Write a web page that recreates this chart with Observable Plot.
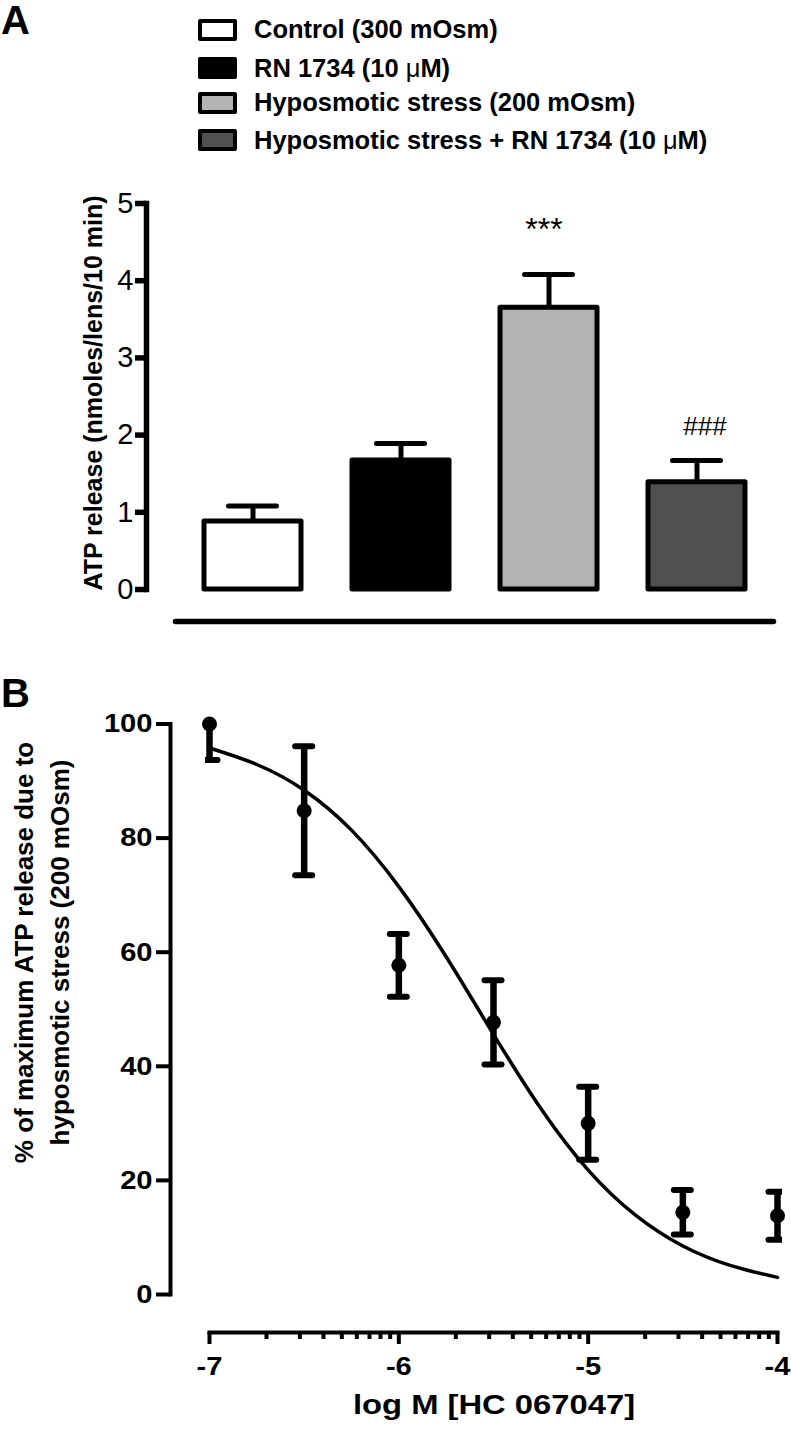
<!DOCTYPE html>
<html>
<head>
<meta charset="utf-8">
<script src="https://cdn.jsdelivr.net/npm/d3@7"></script>
<script src="https://cdn.jsdelivr.net/npm/@observablehq/plot@0.6"></script>
<style>
  html, body { margin: 0; padding: 0; background: #fff; }
  #page { position: relative; width: 791px; height: 1429px; overflow: hidden;
          font-family: "Liberation Sans", Arial, Helvetica, sans-serif; color: #000; background: #fff; }
  .panel-letter { position: absolute; left: 1px; font-size: 40px; line-height: 32px; font-weight: bold; }
  .legend-row { position: absolute; left: 198px; height: 25px; display: flex; align-items: center;
                font-size: 25.5px; line-height: 25px; font-weight: bold; white-space: nowrap; }
  .swatch { width: 39px; height: 22px; border: 4px solid #000; box-sizing: border-box;
            border-radius: 2px; margin-right: 17px; flex: none; }
  .mu { font-weight: normal; }
</style>
</head>
<body>
<div id="page"></div>
<script>
// ---------- Panel A data ----------
const categories = [
  "Control (300 mOsm)",
  "RN 1734 (10 μM)",
  "Hyposmotic stress (200 mOsm)",
  "Hyposmotic stress + RN 1734 (10 μM)"
];
const atpMean = [0.88, 1.67, 3.65, 1.39];
const atpSem = [0.20, 0.22, 0.43, 0.28];
const atpSignif = ["", "", "***", "###"];
const atpTicks = [0, 1, 2, 3, 4, 5];
const atpLabel = "ATP release (nmoles/lens/10 min)";

// ---------- Panel B data ----------
const doseLogM = [-7, -6.5, -6, -5.5, -5, -4.5, -4];
const pctMean = [100, 84.8, 57.7, 47.7, 30.0, 14.4, 13.8];
const pctSem = [6.3, 11.3, 5.5, 7.4, 6.4, 3.9, 4.2];
const fitLogM = [-7, -6.75, -6.5, -6.25, -6, -5.75, -5.5, -5.25, -5, -4.75, -4.5, -4.25, -4];
const fitPct = [95.8, 92.9, 88.4, 81.4, 71.5, 59.2, 45.6, 32.6, 21.8, 13.9, 8.5, 5.1, 3.0];
const pctTicks = [0, 20, 40, 60, 80, 100];
const decadeTicks = [-7, -6, -5, -4];
const pctLabel = ["% of maximum ATP release due to", "hyposmotic stress (200 mOsm)"];
const doseLabel = "log M [HC 067047]";

// ---------- styles ----------
const barColors = ["#ffffff", "#000000", "#b3b3b3", "#505050"];
const FONT = '"Liberation Sans", Arial, Helvetica, sans-serif';

const page = document.getElementById("page");

// Panel letters
function letter(txt, top) {
  const d = document.createElement("div");
  d.className = "panel-letter";
  d.style.top = top + "px";
  d.textContent = txt;
  page.appendChild(d);
}

// Legend (HTML)
const legendTops = [17, 55.5, 90, 127.5];
categories.forEach((c, i) => {
  const row = document.createElement("div");
  row.className = "legend-row";
  row.style.top = legendTops[i] + "px";
  const sw = document.createElement("div");
  sw.className = "swatch";
  sw.style.background = barColors[i];
  row.appendChild(sw);
  const lab = document.createElement("span");
  c.split("μ").forEach((part, j) => {
    if (j > 0) {
      const mu = document.createElement("span");
      mu.className = "mu";
      mu.textContent = "μ";
      lab.appendChild(mu);
    }
    lab.appendChild(document.createTextNode(part));
  });
  row.appendChild(lab);
  page.appendChild(row);
});

function place(svg, top) {
  svg.style.position = "absolute";
  svg.style.left = "0px";
  svg.style.top = top + "px";
  page.appendChild(svg);
}

function stretch(texts, k) {
  texts.forEach(t => {
    if (t.querySelector("tspan")) return;
    const w = t.getComputedTextLength();
    if (w > 0) {
      t.setAttribute("textLength", (w * k).toFixed(2));
      t.setAttribute("lengthAdjust", "spacingAndGlyphs");
    }
  });
}

// ---------- Panel A ----------
const dataA = categories.map((c, i) => ({cat: c, mean: atpMean[i], sem: atpSem[i], sig: atpSignif[i]}));

const plotA = Plot.plot({
  width: 791,
  height: 470,
  marginTop: 33,
  marginBottom: 19,
  marginLeft: 146,
  marginRight: 18,
  style: {fontFamily: FONT, background: "white", color: "black"},
  x: {type: "band", domain: categories, range: [175, 773], paddingInner: 0.346, paddingOuter: 0.189, axis: null},
  y: {domain: [0, 5], range: [419, 33]},
  color: {domain: categories, range: barColors},
  marks: [
    Plot.ruleX(dataA, {x: "cat", y1: "mean", y2: d => d.mean + d.sem, stroke: "black", strokeWidth: 5}),
    Plot.tickY(dataA, {x: "cat", y: d => d.mean + d.sem, stroke: "black", strokeWidth: 5,
                        strokeLinecap: "round", insetLeft: 24.5, insetRight: 24.5}),
    Plot.barY(dataA, {x: "cat", y: "mean", fill: "cat", stroke: "black", strokeWidth: 5, strokeLinejoin: "round"}),
    Plot.text(dataA.filter(d => d.sig === "***"), {x: "cat", y: d => d.mean + d.sem, text: "sig",
                        dx: -5, dy: -45, fontSize: 32, fill: "black"}),
    Plot.text(dataA.filter(d => d.sig === "###"), {x: "cat", y: d => d.mean + d.sem, text: "sig",
                        dx: 8, dy: -34, fontSize: 26, fill: "black"}),
    Plot.axisY(atpTicks, {anchor: "left", tickSize: 11, tickPadding: 2, strokeWidth: 5.5,
                        fontSize: 29, label: null, tickFormat: d => String(d)}),
    Plot.frame({anchor: "left", insetBottom: 32, strokeWidth: 5.5, strokeLinecap: "square"}),
    Plot.frame({anchor: "bottom", insetLeft: 29, strokeWidth: 5.5, strokeLinecap: "round"}),
    Plot.text([atpLabel], {frameAnchor: "left", textAnchor: "middle", lineAnchor: "middle", rotate: -90,
                        dx: -53, dy: -19.5, fontSize: 25, fontWeight: "bold", fill: "black"})
  ]
});

// ---------- Panel B ----------
const dataB = doseLogM.map((l, i) => ({dose: Math.pow(10, l), mean: pctMean[i], sem: pctSem[i]}));
const fitB = fitLogM.map((l, i) => ({dose: Math.pow(10, l), pct: fitPct[i]}));
const decadeValues = decadeTicks.map(k => Math.pow(10, k));
const minorTicks = d3.scaleLog().domain([decadeValues[0], decadeValues[decadeValues.length - 1]]).ticks()
  .filter(v => !decadeTicks.some(k => Math.abs(Math.log10(v) - k) < 1e-9));

const plotB = Plot.plot({
  width: 791,
  height: 789,
  marginTop: 83.5,
  marginBottom: 97,
  marginLeft: 205,
  marginRight: 9,
  style: {fontFamily: FONT, background: "white", color: "black"},
  x: {type: "log", domain: [decadeValues[0], decadeValues[decadeValues.length - 1]], range: [209, 777]},
  y: {domain: [0, 100], range: [654, 83.5]},
  marks: [
    Plot.frame({anchor: "left", insetLeft: -35, insetBottom: 38, strokeWidth: 4, strokeLinecap: "square"}),
    Plot.frame({anchor: "bottom", insetLeft: 4, insetRight: 5, strokeWidth: 4, strokeLinecap: "square"}),
    Plot.axisY(pctTicks, {anchor: "left", dx: -35, tickSize: 14, tickPadding: 4, strokeWidth: 4,
                          fontSize: 26, fontWeight: "bold", label: null, tickFormat: d => String(d)}),
    Plot.axisX(minorTicks, {anchor: "bottom", tickSize: 7, strokeWidth: 4, tickFormat: () => "", label: null}),
    Plot.axisX(decadeValues, {anchor: "bottom", tickSize: 12, tickPadding: 12, strokeWidth: 4,
                          fontSize: 26, fontWeight: "bold", label: null,
                          tickFormat: d => String(Math.round(Math.log10(d)))}),
    Plot.line(fitB, {x: "dose", y: "pct", curve: "natural", stroke: "black", strokeWidth: 3.5}),
    Plot.ruleX(dataB, {x: "dose", y1: d => d.mean - d.sem, y2: d => d.mean + d.sem,
                       stroke: "black", strokeWidth: 6.5, clip: true}),
    Plot.ruleY(dataB, {y: d => d.mean - d.sem, x1: "dose", x2: "dose", insetLeft: -8.5, insetRight: -8.5,
                       stroke: "black", strokeWidth: 6, strokeLinecap: "round", clip: true}),
    Plot.ruleY(dataB, {y: d => d.mean + d.sem, x1: "dose", x2: "dose", insetLeft: -8.5, insetRight: -8.5,
                       stroke: "black", strokeWidth: 6, strokeLinecap: "round", clip: true}),
    Plot.dot(dataB, {x: "dose", y: "mean", r: 7.5, fill: "black", stroke: null}),
    Plot.text([pctLabel.join("\n")], {frameAnchor: "left", textAnchor: "middle", lineAnchor: "middle", rotate: -90,
                       dx: -166, dy: -75.75, fontSize: 26, fontWeight: "bold", lineHeight: 36 / 26, fill: "black"}),
    Plot.text([doseLabel], {frameAnchor: "bottom", textAnchor: "middle", lineAnchor: "middle",
                       dx: 0, dy: 73, fontSize: 28, fontWeight: "bold", fill: "black"})
  ]
});

letter("A", 4);
place(plotA, 170);
place(plotB, 640);
letter("B", 677.4);

// width adjustments to match the figure's lettering
stretch(plotB.querySelectorAll('g[aria-label="y-axis tick label"] text, g[aria-label="x-axis tick label"] text'), 1.12);
stretch(Array.from(plotB.querySelectorAll("text")).filter(t => t.textContent === doseLabel), 1.17);
</script>
</body>
</html>
